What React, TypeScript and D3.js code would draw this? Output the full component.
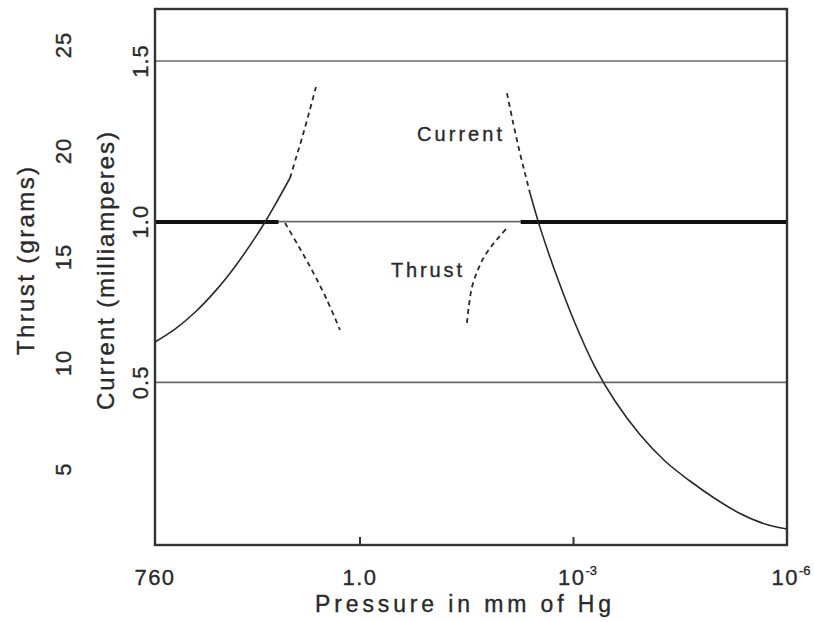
import React from "react";
import * as d3 from "d3";

// Pressure (mm Hg) vs current (mA)
const currentLeftSolid: [number, number][] = [
  [760, 0.6255], [398, 0.6657], [208, 0.718], [109, 0.783], [57.2, 0.86],
  [29.9, 0.9495], [21.6, 0.999], [15.7, 1.0516], [9.63, 1.1359],
];
const currentLeftDashed: [number, number][] = [
  [9.63, 1.1359], [7.94, 1.198], [6.54, 1.26], [5.21, 1.338], [4.16, 1.419],
];
const currentRightDashed: [number, number][] = [
  [8.61e-3, 1.4], [7.09e-3, 1.31], [5.84e-3, 1.226], [4.81e-3, 1.151], [4.09e-3, 1.089],
];
const currentRightSolid: [number, number][] = [
  [4.09e-3, 1.089], [2.96e-3, 0.983], [1.82e-3, 0.8456], [9.55e-4, 0.6847],
  [4.99e-4, 0.5477], [2.61e-4, 0.4419], [1.16e-4, 0.3369], [5.19e-5, 0.2552],
  [2.31e-5, 0.1929], [1.03e-5, 0.1385], [4.58e-6, 0.0918], [2.04e-6, 0.0591], [1e-6, 0.0436],
];
// Pressure (mm Hg) vs thrust (grams)
const thrustLeftSolid: [number, number][] = [[760, 16.65], [14, 16.65]];
const thrustLeftDashed: [number, number][] = [
  [11.3, 16.6], [7.19, 15.47], [4.58, 14.29], [2.91, 12.97], [1.91, 11.56],
];
const thrustRightDashed: [number, number][] = [
  [0.0314, 11.89], [0.0294, 12.74], [0.0267, 13.58], [0.0227, 14.29],
  [0.0187, 14.91], [0.0149, 15.42], [0.01115, 15.94], [0.00834, 16.42],
];
const thrustRightSolid: [number, number][] = [[5.52e-3, 16.65], [1e-6, 16.65]];

const currentTicks = [0.5, 1.0, 1.5];
const currentTickLabels = ["0.5", "1.0", "1.5"];
const thrustTicks = [5, 10, 15, 20, 25];
const pressureTicks = [760, 1, 1e-3, 1e-6];
const pressureTickBase = ["760", "1.0", "10", "10"];
const pressureTickSup = ["", "", "-3", "-6"];

const W = 814;
const H = 622;
const left = 155, right = 787, top = 9, bottom = 545;

export default function App() {
  const x = d3.scaleLog().domain([760, 1e-6]).range([left, right]);
  const yC = d3.scaleLinear().domain([0, 1.5]).range([543, 61]);
  const yT = d3.scaleLinear().domain([5, 25]).range([469, 45]);

  const curve = d3.curveCatmullRom.alpha(0.5);
  const lineC = d3.line<[number, number]>().x(d => x(d[0])).y(d => yC(d[1])).curve(curve);
  const lineT = d3.line<[number, number]>().x(d => x(d[0])).y(d => yT(d[1])).curve(curve);

  const ink = "#2a2a2a";
  const font = "'Liberation Sans', Arial, Helvetica, sans-serif";
  const textStroke = { stroke: ink, strokeWidth: 0.35 };

  return (
    <svg width={W} height={H} viewBox={`0 0 ${W} ${H}`}
      style={{ position: "absolute", left: 0, top: 0, background: "#fff" }}
      fontFamily={font}>
      {/* grid lines */}
      {currentTicks.map(t => (
        <line key={t} x1={left} x2={right} y1={yC(t)} y2={yC(t)} stroke="#6a6a6a" strokeWidth={1.6} />
      ))}
      {/* thrust solid thick */}
      <path d={lineT(thrustLeftSolid) || ""} fill="none" stroke="#111" strokeWidth={4} />
      <path d={lineT(thrustRightSolid) || ""} fill="none" stroke="#111" strokeWidth={4} />
      {/* thrust dashed */}
      <path d={lineT(thrustLeftDashed) || ""} fill="none" stroke={ink} strokeWidth={1.8} strokeDasharray="5,4" />
      <path d={lineT(thrustRightDashed) || ""} fill="none" stroke={ink} strokeWidth={1.8} strokeDasharray="5,4" />
      {/* current */}
      <path d={lineC(currentLeftSolid) || ""} fill="none" stroke={ink} strokeWidth={1.6} />
      <path d={lineC(currentLeftDashed) || ""} fill="none" stroke={ink} strokeWidth={1.8} strokeDasharray="5,4" />
      <path d={lineC(currentRightDashed) || ""} fill="none" stroke={ink} strokeWidth={1.8} strokeDasharray="5,4" />
      <path d={lineC(currentRightSolid) || ""} fill="none" stroke={ink} strokeWidth={1.6} />

      {/* frame */}
      <rect x={left} y={top} width={right - left} height={bottom - top} fill="none" stroke="#333" strokeWidth={2.4} />
      {/* bottom ticks */}
      {pressureTicks.map(p => (
        <line key={p} x1={x(p)} x2={x(p)} y1={bottom} y2={bottom - 8} stroke="#333" strokeWidth={2} />
      ))}

      {/* bottom tick labels */}
      {pressureTicks.map((p, i) => (
        <text key={p} x={x(p) + (pressureTickSup[i] ? 4 : 0)} y={585} fontSize={22} fill={ink}
          textAnchor="middle" letterSpacing={1.5} {...textStroke}>
          {pressureTickBase[i]}
          {pressureTickSup[i] ? <tspan dy={-10} fontSize={13} letterSpacing={0}>{pressureTickSup[i]}</tspan> : null}
        </text>
      ))}
      <text x={463} y={612} fontSize={23} fill={ink} textAnchor="middle"
        textLength={296} lengthAdjust="spacing" {...textStroke}>Pressure in mm of Hg</text>

      {/* current tick labels */}
      {currentTicks.map((t, i) => (
        <text key={t} transform={`translate(148,${yC(t)}) rotate(-90)`} fontSize={22} fill={ink}
          textAnchor="middle" letterSpacing={1} {...textStroke}>{currentTickLabels[i]}</text>
      ))}
      {/* thrust tick labels */}
      {thrustTicks.map(t => (
        <text key={t} transform={`translate(71,${yT(t)}) rotate(-90)`} fontSize={22} fill={ink}
          textAnchor="middle" letterSpacing={1} {...textStroke}>{t}</text>
      ))}
      <text transform="translate(34,261) rotate(-90)" fontSize={24} fill={ink} textAnchor="middle"
        textLength={188} lengthAdjust="spacing" {...textStroke}>Thrust  (grams)</text>
      <text transform="translate(114,271) rotate(-90)" fontSize={24} fill={ink} textAnchor="middle"
        textLength={278} lengthAdjust="spacing" {...textStroke}>Current  (milliamperes)</text>

      {/* in-plot labels */}
      <text x={417} y={141} fontSize={20} fill={ink} textLength={85} lengthAdjust="spacing" {...textStroke}>Current</text>
      <text x={391} y={277} fontSize={20} fill={ink} textLength={71} lengthAdjust="spacing" {...textStroke}>Thrust</text>
    </svg>
  );
}
